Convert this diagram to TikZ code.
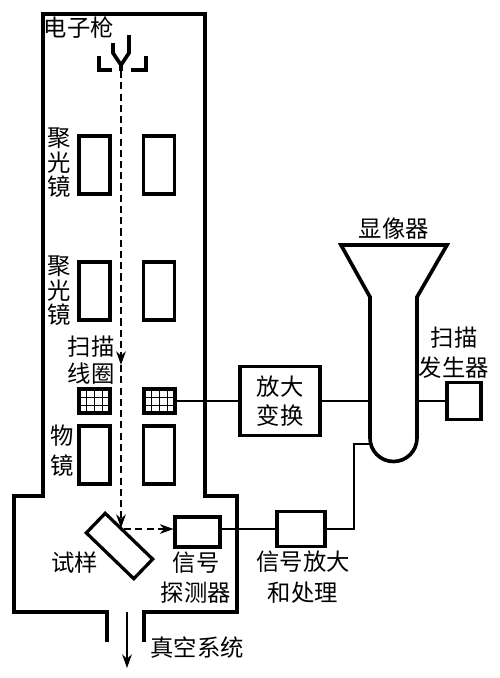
\documentclass[tikz,border=0pt]{standalone}
\usepackage{fontspec}
\newfontfamily\cjk{Noto Sans CJK SC}
\usetikzlibrary{arrows.meta,positioning,calc}
\tikzset{
  wall/.style={line width=2.6pt},
  box/.style={draw, line width=2.3pt, inner sep=0pt, fill=white},
  lens/.style={box, minimum width=0.78cm, minimum height=1.45cm},
  coil/.style={box, minimum width=0.78cm, minimum height=0.6cm,
    path picture={
      \foreach \f in {0.25,0.5,0.75} {\draw[line width=0.5pt] ($(path picture bounding box.south west)!\f!(path picture bounding box.south east)$) -- ($(path picture bounding box.north west)!\f!(path picture bounding box.north east)$);}
      \foreach \f in {0.33,0.67} {\draw[line width=0.5pt] ($(path picture bounding box.south west)!\f!(path picture bounding box.north west)$) -- ($(path picture bounding box.south east)!\f!(path picture bounding box.north east)$);}
    }},
  conn/.style={line width=1.7pt},
  arr/.style={-{Stealth[length=3.4mm,width=2.4mm]}, line width=1.7pt},
  beam/.style={line width=1.7pt, dash pattern=on 5pt off 3pt},
  lab/.style={font=\cjk\fontsize{16.6}{17.5}\selectfont, align=center, inner sep=0pt}}

\begin{document}
\begin{tikzpicture}[x=0.025cm,y=-0.025cm]
  \useasboundingbox (0,0) rectangle (500,678);
  % column and chamber
  \draw[wall] (107,642) -- (107,612) -- (14,612) -- (14,496) -- (43,496) -- (43,14) -- (205,14) -- (205,496) -- (237,496) -- (237,612) -- (144,612) -- (144,642);
  % gun
  \draw[wall] (113,43) -- (113,53) -- (121,65) -- (129,53) -- (129,35);
  \draw[wall] (121,65) -- (121,71);
  \draw[wall] (99,56) -- (99,70) -- (112,70);
  \draw[wall] (146,56) -- (146,70) -- (131,70);
  \coordinate (gun) at (121,71);
  \coordinate (beamA) at (121,365);
  \coordinate (beamB) at (121,528);
  % lenses
  \node[lens] (l1) at (94.5,165) {};
  \node[lens] (r1) at (159,165) {};
  \node[lens] (l2) at (94.5,291) {};
  \node[lens] (r2) at (159,291) {};
  \node[coil] (cl) at (94.5,401) {};
  \node[coil] (cr) at (159.5,401) {};
  \node[lens] (l3) at (94.5,455) {};
  \node[lens] (r3) at (159,455) {};
  \node[box, minimum width=1.65cm, minimum height=0.68cm, rotate=-44] (spec) at (119.5,546) {};
  \node[box, minimum width=1.12cm, minimum height=0.75cm] (det) at (197.5,532) {};
  \node[box, minimum width=1.2cm, minimum height=0.88cm] (sig) at (301,529) {};
  \node[box, lab, minimum width=2cm, minimum height=1.72cm] (amp) at (280,401) {放大\\[3pt]变换};
  \node[box, minimum width=0.85cm, minimum height=0.92cm] (scan) at (464,401) {};
  % display tube
  \draw[wall] (370,297) -- (341,245) -- (447,245) -- (417,297) -- (417,438) arc[start angle=0, end angle=-180, radius=0.5875cm] -- cycle;
  \coordinate (tubeA) at (370,401);
  \coordinate (tubeB) at (417,401);
  \coordinate (tubeC) at (370,444);
  \coordinate (bendA) at (354,529);
  \coordinate (bendB) at (354,444);
  \coordinate (pumpA) at (127,612);
  \coordinate (pumpB) at (127,668);
  % connectors
  \draw[conn] (cr.east) -- (amp.west);
  \draw[conn] (amp.east) -- (tubeA);
  \draw[conn] (tubeB) -- (scan.west);
  \draw[conn] (det.east |- sig.west) -- (sig.west);
  \draw[conn] (sig.east) -- (bendA) -- (bendB) -- (tubeC);
  \draw[arr] (pumpA) -- (pumpB);
  \draw[beam, -{Stealth[length=3.4mm,width=2.4mm]}] (gun) -- (beamA);
  \draw[beam, -{Stealth[length=3.4mm,width=2.4mm]}] (beamA) -- (beamB);
  \draw[beam, -{Stealth[length=3.4mm,width=2.4mm]}] (124,529) coordinate (hit) -- (det.west |- hit);
  % labels
  \node[lab] (t1) at (79,28) {电子枪};
  \node[lab] (t2) at (59,163) {聚\\光\\镜};
  \node[lab] (t3) at (59,291) {聚\\光\\镜};
  \node[lab] (t4) at (91,360) {扫描\\[2pt]线圈};
  \node[lab] (t5) at (62,451) {物\\[4pt]镜};
  \node[lab] (t6) at (75,563) {试样};
  \node[lab] (t7) at (196,578) {信号\\[4pt]探测器};
  \node[lab] (t8) at (197,648) {真空系统};
  \node[lab] (t9) at (394,229) {显像器};
  \node[lab] (t10) at (454,353) {扫描\\[4pt]发生器};
  \node[lab] (t11) at (303,577) {信号放大\\[4pt]和处理};
\end{tikzpicture}
\end{document}
